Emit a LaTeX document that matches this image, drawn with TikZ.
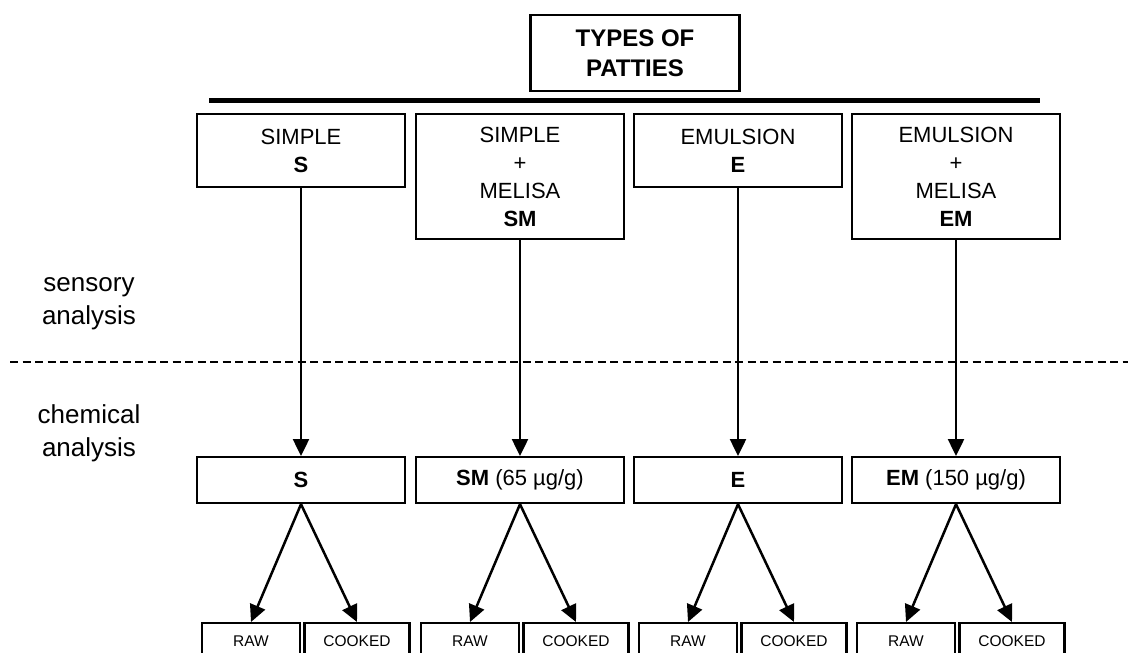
\documentclass[tikz,border=0pt]{standalone}
\usepackage{fontspec}
\setmainfont{Liberation Sans}
\usetikzlibrary{arrows.meta,positioning}

\tikzset{
  box/.style={draw, line width=2.2pt, align=center, inner sep=0pt, anchor=north,
    minimum width=208pt, font=\fontsize{22}{28}\selectfont},
  leaf/.style={draw, line width=2.2pt, inner sep=0pt, anchor=north,
    minimum height=36pt, font=\fontsize{15.5}{18}\selectfont},
  side/.style={align=center, font=\fontsize{26}{33}\selectfont},
  link/.style={line width=2.5pt, -{Triangle[length=17pt,width=16pt]}},
}

\begin{document}
\begin{tikzpicture}[x=1pt,y=-1pt]
  \useasboundingbox (0,0) rectangle (1128,653);

  % Title and bar
  \node[box, minimum width=209pt, minimum height=76pt, font=\fontsize{24}{30}\selectfont\bfseries]
    (types) at (635,14) {TYPES OF\\PATTIES};
  \draw[line width=5pt] (209,100) -- (1040,100);

  % Patty types
  \node[box, minimum height=73pt] (s) at (301,113) {SIMPLE\\\textbf{S}};
  \node[box, minimum height=125pt] (sm) at (520,113) {SIMPLE\\+\\MELISA\\\textbf{SM}};
  \node[box, minimum height=73pt] (e) at (738,113) {EMULSION\\\textbf{E}};
  \node[box, minimum height=125pt] (em) at (956,113) {EMULSION\\+\\MELISA\\\textbf{EM}};

  % Analysis stages
  \node[side] (sensory) at (89,304) {sensory\\analysis};
  \node[side] (chemical) at (89,433) {chemical\\analysis};
  \draw[line width=1.6pt, dash pattern=on 8pt off 4.5pt] (10,362) -- (1128,362);

  % Samples for chemical analysis
  \node[box, minimum height=46pt] (s-c) at (301,456) {\textbf{S}};
  \node[box, minimum height=46pt] (sm-c) at (520,456) {\textbf{SM} (65 µg/g)};
  \node[box, minimum height=46pt] (e-c) at (738,456) {\textbf{E}};
  \node[box, minimum height=46pt] (em-c) at (956,456) {\textbf{EM} (150 µg/g)};

  % Raw and cooked, with arrows
  \foreach \k/\x in {s/301, sm/520, e/738, em/956} {
    \node[leaf, minimum width=98pt] (\k-raw) at (\x-50,622) {RAW};
    \node[leaf, minimum width=105pt] (\k-cooked) at (\x+56,622) {COOKED};
    \draw[link] (\k.south) -- (\k-c.north);
    \draw[link] (\k-c.south) -- (\k-raw.north);
    \draw[link] (\k-c.south) -- (\k-cooked.north);
  }
\end{tikzpicture}
\end{document}
